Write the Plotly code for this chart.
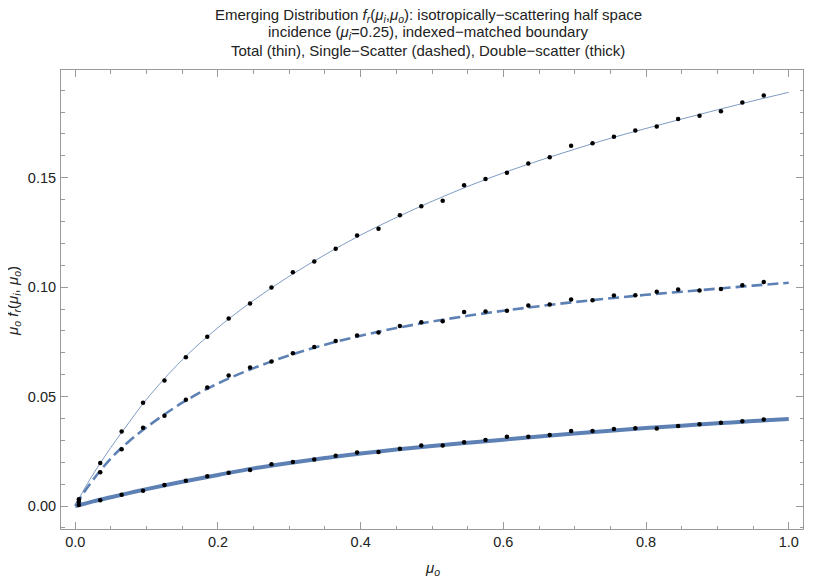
import plotly.graph_objects as go

# smooth model curves
curve_x = [0, 0.01, 0.025, 0.05, 0.075, 0.1, 0.15, 0.2, 0.25, 0.3, 0.35, 0.4,
           0.45, 0.5, 0.55, 0.6, 0.65, 0.7, 0.75, 0.8, 0.85, 0.9, 0.95, 1.0]
total_curve = [0, 0.0062, 0.0145, 0.0268, 0.0380, 0.0488, 0.0668, 0.0815, 0.0940,
               0.1050, 0.1148, 0.1238, 0.1318, 0.1392, 0.1460, 0.1522, 0.1578,
               0.1630, 0.1680, 0.1725, 0.1768, 0.1810, 0.1851, 0.1890]
single_curve = [0, 0.0052, 0.0120, 0.0218, 0.0295, 0.0360, 0.0472, 0.0560, 0.0630,
                0.0688, 0.0737, 0.0778, 0.0813, 0.0843, 0.0869, 0.0892, 0.0913,
                0.0932, 0.0949, 0.0965, 0.0979, 0.0993, 0.1007, 0.1020]
double_curve = [0, 0.0008, 0.0021, 0.0040, 0.0059, 0.0077, 0.0111, 0.0142, 0.0172,
                0.0197, 0.0219, 0.0240, 0.0258, 0.0274, 0.0289, 0.0303, 0.0318,
                0.0331, 0.0344, 0.0356, 0.0367, 0.0378, 0.0388, 0.0398]

# simulated points
dot_x = [0.005, 0.035, 0.065, 0.095, 0.125, 0.155, 0.185, 0.215, 0.245, 0.275, 0.305,
         0.335, 0.365, 0.395, 0.425, 0.455, 0.485, 0.515, 0.545, 0.575, 0.605, 0.635,
         0.665, 0.695, 0.725, 0.755, 0.785, 0.815, 0.845, 0.875, 0.905, 0.935, 0.965]
dot_total = [0.0031, 0.0197, 0.0340, 0.0472, 0.0573, 0.0680, 0.0773, 0.0857, 0.0925,
             0.0998, 0.1068, 0.1117, 0.1175, 0.1236, 0.1267, 0.1328, 0.1369, 0.1395,
             0.1465, 0.1494, 0.1523, 0.1565, 0.1593, 0.1646, 0.1657, 0.1687, 0.1716,
             0.1734, 0.1768, 0.1783, 0.1803, 0.1843, 0.1876]
dot_single = [0.0020, 0.0154, 0.0259, 0.0358, 0.0412, 0.0485, 0.0541, 0.0596, 0.0633,
              0.0660, 0.0698, 0.0727, 0.0754, 0.0779, 0.0793, 0.0823, 0.0840, 0.0844,
              0.0886, 0.0889, 0.0892, 0.0916, 0.0921, 0.0943, 0.0940, 0.0962, 0.0963,
              0.0979, 0.0989, 0.0985, 0.0992, 0.1009, 0.1023]
dot_double = [0.0005, 0.0026, 0.0052, 0.0070, 0.0096, 0.0116, 0.0136, 0.0152, 0.0165,
              0.0191, 0.0201, 0.0212, 0.0230, 0.0244, 0.0247, 0.0262, 0.0277, 0.0276,
              0.0291, 0.0302, 0.0316, 0.0316, 0.0325, 0.0343, 0.0343, 0.0352, 0.0355,
              0.0354, 0.0366, 0.0373, 0.0380, 0.0387, 0.0395]

title_lines = [
    "Emerging Distribution <i>f<sub>r</sub></i>(<i>μ<sub>i</sub></i>,<i>μ<sub>o</sub></i>): "
    "isotropically−scattering half space",
    "incidence (<i>μ<sub>i</sub></i>=0.25), indexed−matched boundary",
    "Total (thin), Single−Scatter (dashed), Double−scatter (thick)",
]
x_title = "<i>μ<sub>o</sub></i>"
y_title = "<i>μ<sub>o</sub></i> <i>f<sub>r</sub></i>(<i>μ<sub>i</sub></i>, <i>μ<sub>o</sub></i>)"

blue = "#5E81B5"
frame = "#9a9a9a"
font = "Liberation Sans, Arial, sans-serif"

fig = go.Figure()
fig.add_trace(go.Scatter(x=curve_x, y=total_curve, mode="lines", line_shape="spline",
                         line=dict(color=blue, width=0.8)))
fig.add_trace(go.Scatter(x=curve_x, y=single_curve, mode="lines", line_shape="spline",
                         line=dict(color=blue, width=2.6, dash="11px,5px")))
fig.add_trace(go.Scatter(x=curve_x, y=double_curve, mode="lines", line_shape="spline",
                         line=dict(color=blue, width=4)))
for ys in (dot_total, dot_single, dot_double):
    fig.add_trace(go.Scatter(x=dot_x, y=ys, mode="markers",
                             marker=dict(color="black", size=4.5)))

# title lines placed one by one (plot area is 459 px tall, 742 px wide)
title_gap = [55, 37.5, 20]
for line, gap in zip(title_lines, title_gap):
    fig.add_annotation(text=line, xref="paper", yref="paper", x=0.495,
                       y=1 + gap / 459, xanchor="center", yanchor="middle",
                       showarrow=False, font=dict(size=15, color="#222"))

# axis labels as annotations so their positions are exact
fig.add_annotation(text=x_title, xref="paper", yref="paper", x=0.5, y=-39 / 459,
                   xanchor="center", yanchor="middle", showarrow=False,
                   font=dict(size=15, color="#222"))
fig.add_annotation(text=y_title, xref="paper", yref="paper", x=-47 / 742, y=0.497,
                   xanchor="center", yanchor="middle", textangle=-90, showarrow=False,
                   font=dict(size=15, color="#222"))

axis_common = dict(showline=True, linecolor=frame, linewidth=1, mirror="ticks",
                   ticks="inside", ticklen=7, tickcolor=frame, showgrid=False,
                   zeroline=False, automargin=False,
                   tickfont=dict(size=14.5, color="#222"))

# the page body has an 8px margin, so the figure is 8px smaller than the window
fig.update_layout(
    width=822, height=570,
    margin=dict(l=53, r=27, t=62, b=49),
    paper_bgcolor="white", plot_bgcolor="white",
    font=dict(family=font, color="#222"),
    showlegend=False,
    xaxis=dict(range=[-0.02, 1.02], tick0=0, dtick=0.2, tickformat=".1f",
               minor=dict(dtick=0.05, ticks="inside", ticklen=3.5, tickcolor=frame),
               ticklabelstandoff=0,
               **axis_common),
    yaxis=dict(range=[-0.0105, 0.1992], tick0=0, dtick=0.05, tickformat=".2f",
               minor=dict(dtick=0.01, ticks="inside", ticklen=3.5, tickcolor=frame),
               ticklabelstandoff=1,
               **axis_common),
)

fig.write_html("out.html")
